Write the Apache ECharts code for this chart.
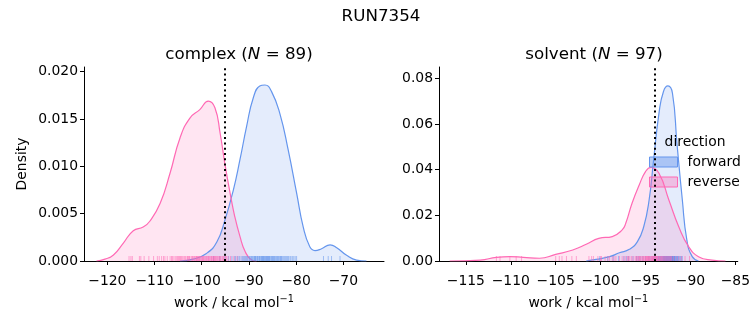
<!DOCTYPE html>
<html>
<head>
<meta charset="utf-8">
<script src="https://cdn.jsdelivr.net/npm/echarts@6/dist/echarts.min.js"></script>
<style>
html,body{margin:0;padding:0;background:#fff;}
#chart{width:753px;height:325px;}
</style>
</head>
<body>
<div id="chart"></div>
<script>
// ---------- data ----------
const suptitle = 'RUN7354';
const panelNames = ['complex', 'solvent'];
const panelN = [89, 97];
const xLabelMain = 'work / kcal mol';
const xLabelSup = '−1';
const yLabel = 'Density';
const legendTitle = 'direction';
const directions = ['forward', 'reverse'];

const complexXTicks = [-120, -110, -100, -90, -80, -70];
const complexYTicks = [0, 0.005, 0.010, 0.015, 0.020];
const solventXTicks = [-115, -110, -105, -100, -95, -90, -85];
const solventYTicks = [0, 0.02, 0.04, 0.06, 0.08];

// KDE curves
const complexFwdX = [-104.6, -101.8, -99.0, -96.8, -95.1, -93.3, -91.9, -90.5, -89.1, -87.7, -86.6, -85.2, -83.4, -81.7, -79.9, -78.5, -77.1, -76.0, -74.6, -72.8, -71.4, -69.3, -67.2, -65.1];
const complexFwdY = [0, 0.0002, 0.0008, 0.0020, 0.0043, 0.0075, 0.0107, 0.0142, 0.0172, 0.0185, 0.0186, 0.0179, 0.0155, 0.0118, 0.0072, 0.0036, 0.0015, 0.0011, 0.0013, 0.0017, 0.0014, 0.0006, 0.0001, 0];
const complexRevX = [-122.3, -120.5, -118.7, -116.6, -114.5, -112.4, -111.0, -108.8, -106.7, -104.6, -102.5, -100.4, -98.6, -97.2, -96.1, -95.1, -94.0, -93.0, -91.9, -90.8, -89.4, -88.4];
const complexRevY = [0, 0.0002, 0.00064, 0.0019, 0.0032, 0.0036, 0.0042, 0.0061, 0.0093, 0.0130, 0.0151, 0.0160, 0.0169, 0.0162, 0.0135, 0.0103, 0.0072, 0.0047, 0.0026, 0.0010, 0.0001, 0];

const solventFwdX = [-101.6, -100.5, -99.0, -97.9, -96.8, -95.9, -95.2, -94.6, -94.1, -93.5, -93.0, -92.5, -92.0, -91.5, -90.9, -90.4, -89.8, -89.1];
const solventFwdY = [0, 0.0007, 0.0019, 0.0036, 0.0051, 0.0085, 0.0150, 0.0267, 0.0442, 0.0647, 0.0742, 0.0766, 0.0734, 0.0515, 0.0267, 0.0092, 0.0019, 0];
const solventRevX = [-116.8, -113.4, -111.6, -110.1, -108.6, -106.8, -105.0, -103.1, -101.6, -100.2, -98.7, -97.6, -97.2, -96.5, -95.7, -95.0, -94.4, -93.5, -92.4, -91.3, -90.2, -89.1, -87.6, -86.1];
const solventRevY = [0, 0.0004, 0.0016, 0.0019, 0.0016, 0.0012, 0.0029, 0.0048, 0.0073, 0.0099, 0.0107, 0.0136, 0.0165, 0.0253, 0.0333, 0.0391, 0.0410, 0.0384, 0.0267, 0.0150, 0.0063, 0.0019, 0.0004, 0];

// rug values
const complexFwdRug = [-97.5, -96.2, -95.1, -94.3, -93.6, -93.0, -92.4, -91.9, -91.5, -91.1, -90.7, -90.3, -90.0, -89.7, -89.4, -89.1, -88.8, -88.6, -88.3, -88.1, -87.8, -87.6, -87.4, -87.1, -86.9, -86.7, -86.5, -86.2, -86.0, -85.8, -85.5, -85.3, -85.0, -84.8, -84.5, -84.2, -83.9, -83.6, -83.3, -83.0, -82.6, -82.2, -81.8, -81.3, -80.8, -80.2, -74.2, -73.2, -72.5, -70.7,
  -92.8, -92.1, -91.3, -90.9, -90.5, -89.9, -89.5, -89.2, -88.9, -88.5, -88.2, -87.9, -87.7, -87.3, -87.0, -86.8, -86.4, -86.1, -85.9, -85.6, -85.2, -84.9, -84.6, -84.3, -84.0, -83.7, -83.4, -83.1, -82.8, -82.4, -82.0, -81.6, -81.1, -80.5, -79.9, -88.7, -87.2, -86.3, -85.7];
const complexRevRug = [-115.4, -115.0, -114.7, -113.2, -112.9, -112.2, -111.2, -109.4, -109.0, -108.5, -107.8, -107.3,
  -106.7, -106.2, -105.9, -105.3, -104.9, -104.5, -104.1, -103.8, -103.4, -103.1, -102.8, -102.5,
  -102.2, -101.9, -101.7, -101.4, -101.1, -100.9, -100.6, -100.4, -100.1, -99.9, -99.6, -99.4, -99.2, -98.9, -98.7, -98.5, -98.2, -98.0, -97.8, -97.5,
  -97.3, -97.0, -96.8, -96.5, -96.2, -95.9, -95.6, -95.3, -95.0, -94.7, -94.4,
  -101.5, -101.0, -100.5, -100.2, -99.7, -99.0, -98.4, -97.9, -97.6, -97.1, -96.7, -96.3, -102.0, -102.6, -103.6, -104.3, -105.1, -105.6, -106.4, -99.8, -100.7, -98.6, -97.4, -96.0, -95.4, -94.9, -93.9, -93.2, -92.5, -110.2, -108.1, -104.7, -103.0, -101.2];
const solventFwdRug = [-100.1, -99.2, -98.6, -98.0, -97.4, -96.9, -96.4, -96.0, -95.6, -95.3, -95.0, -94.7, -94.4, -94.2, -94.0, -93.8, -93.6,
  -93.5, -93.4, -93.3, -93.2, -93.1, -93.0, -92.95, -92.9, -92.85, -92.8, -92.75, -92.7, -92.65, -92.6, -92.55, -92.5, -92.45, -92.4, -92.35, -92.3, -92.25, -92.2, -92.15, -92.1, -92.05, -92.0, -91.95, -91.9, -91.85, -91.8, -91.75, -91.7, -91.6, -91.5, -91.4, -91.3, -91.2, -91.1, -91.0, -90.9,
  -93.55, -93.45, -93.35, -93.25, -93.15, -93.05, -92.98, -92.88, -92.82, -92.72, -92.68, -92.62, -92.52, -92.48, -92.42, -92.38, -92.32, -92.28, -92.22, -92.18, -92.12, -92.08, -92.02, -91.98, -91.92, -91.88, -91.82, -91.78, -91.65, -91.55, -93.7, -93.9, -94.1, -94.6, -95.8, -97.1, -91.45, -91.35, -92.58, -92.92];
const solventRevRug = [-111.6, -111.2, -110.1, -109.4, -108.8, -104.6, -104.3, -103.8, -102.7, -101.3, -100.8, -100.3, -99.9, -99.5, -99.0, -98.7, -98.3, -97.9, -97.6, -97.2, -96.9, -96.6, -96.3,
  -96.0, -95.8, -95.6, -95.5, -95.3, -95.2, -95.0, -94.9, -94.8, -94.7, -94.6, -94.5, -94.4, -94.3, -94.2, -94.1, -94.0, -93.9, -93.8, -93.7, -93.6, -93.5, -93.4, -93.3, -93.2, -93.0, -92.9, -92.7, -92.5, -92.3, -92.1, -91.9, -91.6, -91.3, -91.0, -90.6, -90.1,
  -95.9, -95.7, -95.4, -95.1, -94.95, -94.85, -94.65, -94.55, -94.35, -94.25, -94.15, -94.05, -93.95, -93.85, -93.75, -93.65, -93.45, -93.25, -93.1, -92.8, -92.6, -92.4, -92.2, -97.4, -97.0, -96.5, -96.1, -98.5, -99.2, -100.0, -101.0, -103.2, -105.0, -96.8, -95.65, -95.25, -94.75];

// vertical reference lines (dotted)
const complexRef = -95.06;
const solventRef = -93.94;

// ---------- chart ----------
const FONT = 'DejaVu Sans';
const BLUE = '#6495ed';
const PINK = '#ff69b4';
const zip = (xs, ys) => xs.map((x, i) => [x, ys[i]]);

function curve(name, xs, ys, color, rgba, idx, ref) {
  const s = {
    name: name, type: 'line', xAxisIndex: idx, yAxisIndex: idx,
    data: zip(xs, ys), smooth: 0.5, showSymbol: false, symbol: 'none',
    lineStyle: { color: color, width: 1.2 }, itemStyle: { color: color },
    areaStyle: { color: rgba, origin: 'start' }, z: 2, silent: true
  };
  if (ref !== undefined) {
    s.markLine = {
      silent: true, symbol: 'none', label: { show: false },
      lineStyle: { color: '#000', width: 2, type: [2, 3.3] },
      data: [{ xAxis: ref }], animation: false, z: 10
    };
  }
  return s;
}
function rug(name, vals, color, idx) {
  return {
    name: name, type: 'scatter', xAxisIndex: idx, yAxisIndex: idx,
    data: vals.map(v => [v, 0]), symbol: 'rect', symbolSize: [1, 5], symbolOffset: [0, -2.5],
    itemStyle: { color: color, opacity: 0.55 }, z: 4, silent: true, clip: false
  };
}
function xAxisCfg(idx, min, max, ticks) {
  return {
    type: 'value', gridIndex: idx, min: min, max: max,
    splitLine: { show: false },
    axisLine: { show: true, onZero: false, lineStyle: { color: '#000', width: 1 } },
    axisTick: { show: true, length: 4, lineStyle: { color: '#000', width: 1 }, customValues: ticks },
    axisLabel: { color: '#000', fontFamily: FONT, fontSize: 13.9, margin: 13, customValues: ticks,
      formatter: v => (v < 0 ? '−' + Math.abs(v) : '' + v) },
    name: '{m|' + xLabelMain + '}{s|' + xLabelSup + '}', nameLocation: 'middle', nameGap: 33,
    nameTextStyle: { color: '#000', fontFamily: FONT, fontSize: 13.9,
      rich: { m: { fontFamily: FONT, fontSize: 13.9, color: '#000' },
              s: { fontFamily: FONT, fontSize: 9.7, color: '#000', verticalAlign: 'top', padding: [0, 0, 8, 0] } } }
  };
}
function yAxisCfg(idx, max, ticks, dec, withName) {
  const c = {
    type: 'value', gridIndex: idx, min: 0, max: max,
    splitLine: { show: false },
    axisLine: { show: true, lineStyle: { color: '#000', width: 1 } },
    axisTick: { show: true, length: 4, lineStyle: { color: '#000', width: 1 }, customValues: ticks },
    axisLabel: { color: '#000', fontFamily: FONT, fontSize: 13.9, margin: 6, customValues: ticks,
      formatter: v => v.toFixed(dec) }
  };
  if (withName) {
    c.name = yLabel; c.nameLocation = 'middle'; c.nameGap = 55; c.nameRotate = 90;
    c.nameTextStyle = { color: '#000', fontFamily: FONT, fontSize: 13.9 };
  }
  return c;
}
function panelTitle(i, cx) {
  return {
    text: '{a|' + panelNames[i] + ' (}{i|N}{a| = ' + panelN[i] + ')}',
    left: cx, top: 41, textAlign: 'center',
    textStyle: { fontFamily: FONT, fontSize: 16.7, fontWeight: 'normal', color: '#000',
      rich: { a: { fontFamily: FONT, fontSize: 16.7, color: '#000' },
              i: { fontFamily: FONT, fontSize: 16.7, fontStyle: 'italic', color: '#000' } } }
  };
}

const chart = echarts.init(document.getElementById('chart'), null, { renderer: 'canvas' });
chart.setOption({
  animation: false,
  backgroundColor: '#fff',
  title: [
    { text: suptitle, left: 376, top: 3, textAlign: 'center',
      textStyle: { fontFamily: FONT, fontSize: 16.7, fontWeight: 'normal', color: '#000' } },
    panelTitle(0, 234),
    panelTitle(1, 589)
  ],
  grid: [
    { left: 84, top: 67, width: 300, height: 194 },
    { left: 439, top: 67, width: 300, height: 194 }
  ],
  xAxis: [
    xAxisCfg(0, -124.94, -61.38, complexXTicks),
    xAxisCfg(1, -117.99, -84.73, solventXTicks)
  ],
  yAxis: [
    yAxisCfg(0, 0.0205, complexYTicks, 3, true),
    yAxisCfg(1, 0.0849, solventYTicks, 2, false)
  ],
  legend: {
    orient: 'vertical', left: 649, top: 155, padding: 0, itemWidth: 28, itemHeight: 10, itemGap: 6,
    icon: 'rect', selectedMode: false,
    textStyle: { fontFamily: FONT, fontSize: 13.9, color: '#000', padding: [0, 0, 0, 5] },
    data: [
      { name: directions[0], itemStyle: { color: 'rgba(100,149,237,0.45)', borderColor: BLUE, borderWidth: 1 } },
      { name: directions[1], itemStyle: { color: 'rgba(255,105,180,0.35)', borderColor: PINK, borderWidth: 1 } }
    ]
  },
  graphic: [
    { type: 'text', x: 695, y: 142, z: 100,
      style: { text: legendTitle, fontFamily: FONT, fontSize: 13.9, fill: '#000', align: 'center', verticalAlign: 'middle' } }
  ],
  series: [
    curve(directions[0], complexFwdX, complexFwdY, BLUE, 'rgba(100,149,237,0.25)', 0, complexRef),
    curve(directions[1], complexRevX, complexRevY, PINK, 'rgba(255,105,180,0.25)', 0),
    curve(directions[0], solventFwdX, solventFwdY, BLUE, 'rgba(100,149,237,0.25)', 1, solventRef),
    curve(directions[1], solventRevX, solventRevY, PINK, 'rgba(255,105,180,0.25)', 1),
    rug('forward rug', complexFwdRug, BLUE, 0),
    rug('reverse rug', complexRevRug, PINK, 0),
    rug('forward rug s', solventFwdRug, BLUE, 1),
    rug('reverse rug s', solventRevRug, PINK, 1)
  ]
});
</script>
</body>
</html>
